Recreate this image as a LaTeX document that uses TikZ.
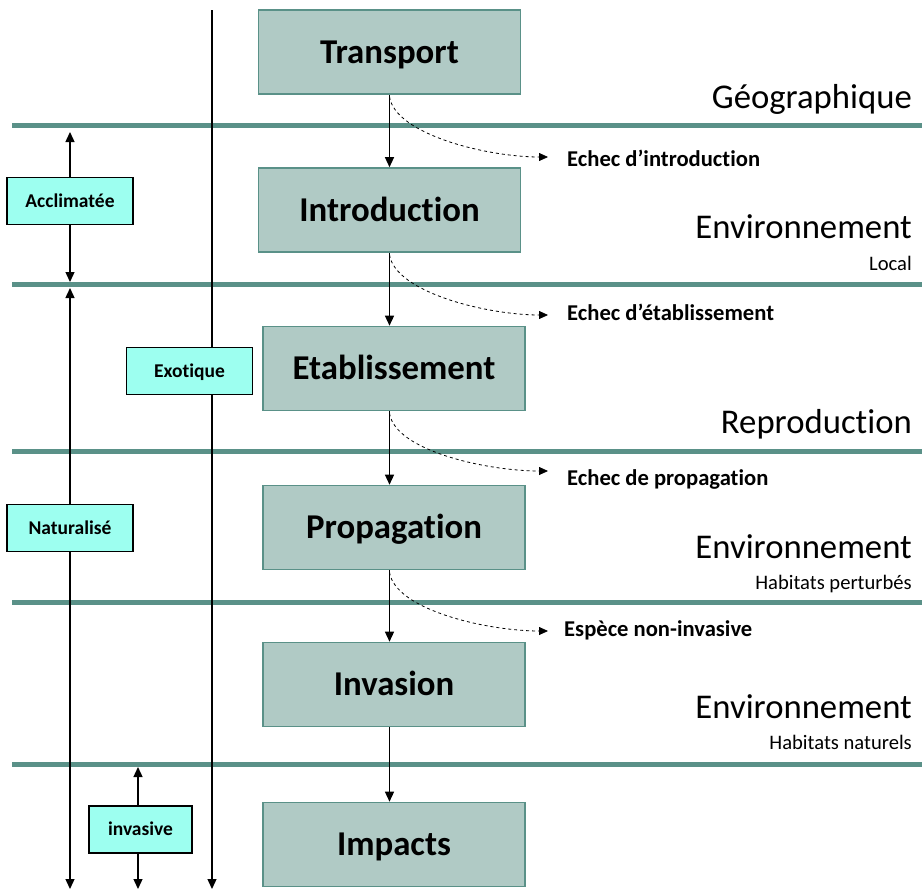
\documentclass[tikz,border=0pt]{standalone}
\usepackage{fontspec}
\setmainfont{Carlito}[Ligatures=NoCommon]
\usetikzlibrary{arrows.meta}
\definecolor{teal1}{RGB}{90,145,136}
\definecolor{stagefill}{RGB}{176,202,197}
\definecolor{statusfill}{RGB}{157,255,240}

\begin{document}
\begin{tikzpicture}[x=1pt, y=-1pt,
  >={Triangle[length=10pt,width=9pt]},
  stage/.style={draw=teal1, line width=1.6pt, fill=stagefill, inner sep=0pt,
    minimum width=262pt, minimum height=84pt, text height=22.4pt, text depth=0pt,
    font=\fontsize{34.8}{40}\selectfont\bfseries},
  status/.style={draw=black, line width=1.3pt, fill=statusfill, inner sep=0pt,
    minimum height=47pt, text height=12.6pt, text depth=0pt,
    font=\fontsize{19.5}{23}\selectfont\bfseries},
  fail/.style={anchor=base west, inner sep=0pt, font=\fontsize{22.6}{26}\selectfont\bfseries},
  zone/.style={anchor=base east, inner sep=0pt, font=\fontsize{34.7}{40}\selectfont},
  subzone/.style={anchor=base east, inner sep=0pt, font=\fontsize{20.6}{24}\selectfont}]
\useasboundingbox (0,0) rectangle (922,892);
\foreach \y in {125,284,451,602,764}{
\draw[teal1, line width=5pt] (12,\y) -- (922,\y);
}
\node[stage] (transport) at (389.5,52) {Transport};
\node[stage] (intro) at (389.5,210) {Introduction};
\node[stage] (etab) at (394,368.5) {Etablissement};
\node[stage] (propag) at (394,527.5) {Propagation};
\node[stage] (invas) at (394,684.5) {Invasion};
\node[stage] (impacts) at (394,844.5) {Impacts};
\draw[->, line width=1.3pt] (transport.south) -- (intro.north);
\draw[->, line width=1.3pt] (intro.south) -- (intro.south |- etab.north);
\draw[->, line width=1.3pt] (etab.south -| intro.south) -- (intro.south |- propag.north);
\draw[->, line width=1.3pt] (propag.south -| intro.south) -- (intro.south |- invas.north);
\draw[->, line width=1.3pt] (invas.south -| intro.south) -- (intro.south |- impacts.north);
\node[fail] (fail1) at (567,166) {Echec d’introduction};
\node[fail] (fail2) at (567,320) {Echec d’établissement};
\node[fail] (fail3) at (567,485) {Echec de propagation};
\node[fail] (fail4) at (564,636) {Espèce non-invasive};
\foreach \a/\b/\y in {transport/fail1/157, intro/fail2/315, etab/fail3/471, propag/fail4/631}{
\draw[->, dashed, line width=0.8pt, >={Triangle[length=9pt,width=8pt]}]
  ([yshift=-2pt]intro.south |- \a.south) .. controls +(6,38) and +(-60,0) .. (548,\y);
}
\node[zone] (geo) at (912,108) {Géographique};
\node[zone] (env1) at (912,238) {Environnement};
\node[subzone] (local) at (912,270) {Local};
\node[zone] (repro) at (912,433) {Reproduction};
\node[zone] (env2) at (912,558) {Environnement};
\node[subzone] (perturb) at (912,589) {Habitats perturbés};
\node[zone] (env3) at (912,718) {Environnement};
\node[subzone] (natur) at (912,749) {Habitats naturels};
% colonne de gauche
\coordinate (top) at (212,10);
\coordinate (bot) at (212,889);
\node[status, minimum width=126pt] (exot) at (189.5,371) {Exotique};
\draw[line width=1.3pt] (top) -- (exot.north -| top);
\draw[->, line width=1.3pt] (exot.south -| top) -- (bot);
\node[status, minimum width=126pt] (acclim) at (70,201) {Acclimatée};
\draw[->, line width=1.3pt] (acclim.north) -- (70,132);
\draw[->, line width=1.3pt] (acclim.south) -- (70,282);
\node[status, minimum width=126pt] (natural) at (70,528) {Naturalisé};
\draw[->, line width=1.3pt] (natural.north) -- (70,288);
\draw[->, line width=1.3pt] (natural.south) -- (70,889);
\node[status, minimum width=103pt] (invsv) at (140.5,829.5) {invasive};
\draw[->, line width=1.3pt] (invsv.north -| 138,0) -- (138,767);
\draw[->, line width=1.3pt] (invsv.south -| 138,0) -- (138,889);
\end{tikzpicture}
\end{document}
